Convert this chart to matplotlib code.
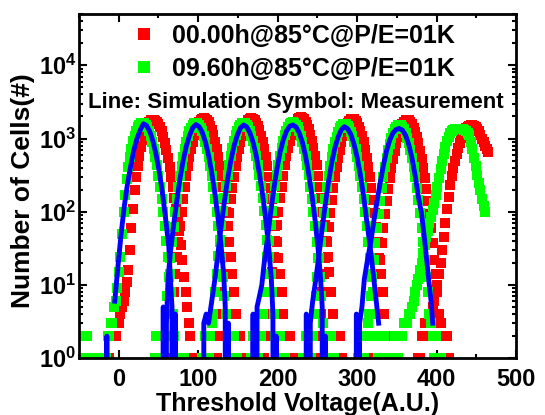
import matplotlib
matplotlib.use("Agg")
import matplotlib.pyplot as plt
from matplotlib.ticker import MultipleLocator, FixedLocator, FixedFormatter, LogLocator, NullFormatter
import numpy as np

nan = np.nan

# ---- chart text ----
legend_labels = ["00.00h@85\u00b0C@P/E=01K", "09.60h@85\u00b0C@P/E=01K"]
note_text = "Line: Simulation Symbol: Measurement"
x_label = "Threshold Voltage(A.U.)"
y_label = "Number of Cells(#)"
x_ticks = [0, 100, 200, 300, 400, 500]
y_ticks = [1, 10, 100, 1000, 10000]
y_tick_labels = [r"$\mathbf{10^{0}}$", r"$\mathbf{10^{1}}$", r"$\mathbf{10^{2}}$",
                 r"$\mathbf{10^{3}}$", r"$\mathbf{10^{4}}$"]

# ---- measurement: Vt histograms, bin width 2 A.U. ----
bin_w = 2

# 00.00h (red): first bin of each state, then counts per bin
red_start = [-28, 55, 115, 177, 242, 311, 377]
red_counts = [
    [1, 1, 1, 1, 1, 1, 1, 1, 1, 2, 2, 2, 2, 3, 3, 4, 5, 6, 8, 11, 16, 30, 60, 110, 200, 300,
     420, 580, 760, 950, 1150, 1340, 1520, 1670, 1780, 1810, 1800, 1760, 1680, 1560, 1420,
     1250, 1060, 880, 700, 540, 410, 300, 220, 155, 110, 78, 55, 35, 22, 13, 8, 5, 3, 2, 1,
     1, 1],
    [1, 2, 1, 1, 1, 2, 4, 8, 14, 24, 39, 64, 98, 148, 215, 304, 418, 559, 722, 906, 1102,
     1301, 1491, 1658, 1788, 1871, 1900, 1870, 1790, 1660, 1490, 1300, 1100, 905, 722, 560,
     420, 305, 215, 148, 98, 64, 39, 24, 14, 8, 4, 2, 1, 2, 1, 1, 1],
    [1, 1, 2, 1, 1, 2, 4, 8, 14, 24, 39, 63, 97, 147, 213, 302, 416, 556, 718, 901, 1096,
     1294, 1483, 1650, 1778, 1861, 1890, 1860, 1780, 1648, 1480, 1290, 1095, 900, 718, 555,
     415, 302, 213, 147, 97, 63, 39, 23, 14, 8, 4, 2, 1, 1, 2, 1, 1],
    [1, 2, 1, 1, 2, 2, 4, 8, 15, 24, 40, 65, 100, 152, 220, 312, 428, 574, 741, 930, 1131,
     1335, 1530, 1702, 1835, 1920, 1950, 1920, 1835, 1700, 1530, 1335, 1130, 930, 740, 573,
     428, 312, 220, 152, 100, 65, 40, 24, 15, 8, 4, 2, 1, 1, 1, 2, 1],
    [1, 1, 1, 2, 1, 2, 4, 8, 14, 23, 38, 62, 95, 144, 209, 296, 407, 544, 703, 882, 1073,
     1267, 1452, 1615, 1741, 1822, 1850, 1822, 1741, 1615, 1452, 1267, 1073, 882, 703, 544,
     407, 296, 209, 144, 95, 62, 38, 23, 14, 8, 4, 2, 1, 1, 2, 1, 1],
    [1, 2, 1, 1, 1, 2, 4, 8, 14, 22, 37, 60, 92, 140, 203, 288, 396, 529, 684, 858, 1044,
     1233, 1413, 1571, 1694, 1773, 1800, 1773, 1694, 1571, 1413, 1233, 1044, 858, 684, 529,
     396, 288, 203, 140, 92, 60, 37, 22, 14, 8, 4, 3, 2, 1, 1, 2, 1],
    [1, 1, 2, 2, 3, 3, 3, 4, 4, 5, 6, 8, 10, 14, 20, 30, 45, 70, 110, 160, 230, 310, 400,
     500, 620, 750, 880, 1010, 1150, 1270, 1380, 1450, 1500, 1520, 1520, 1490, 1450, 1360,
     1250, 1130, 1000, 890, 780, 710, 650],
]

# 09.60h (green)
green_start = [-50, 45, 105, 167, 232, 301, 341]
green_counts = [
    [1, 1, 2, 2, 2, 2, 1, 1, 1, 1, 1, 1, 1, 1,
     1, 1, 1, 1, 2, 2, 3, 3, 5, 6, 9, 15, 24, 50, 100, 170, 280, 410, 560, 730, 910, 1090,
     1270, 1420, 1540, 1620, 1650, 1620, 1540, 1420, 1260, 1090, 900, 730, 560, 430, 310,
     220, 150, 100, 64, 40, 24, 14, 8, 4, 2, 1, 1, 1, 1, 1, 1],
    [1, 2, 1, 1, 2, 1, 2, 4, 7, 13, 23, 38, 62, 98, 150, 220, 310, 425, 565, 725, 900, 1080,
     1255, 1410, 1530, 1615, 1650, 1610, 1530, 1410, 1250, 1075, 895, 720, 560, 425, 310,
     218, 150, 98, 63, 39, 23, 13, 7, 4, 2, 1, 1, 1, 2, 1, 1],
    [1, 1, 2, 1, 1, 2, 3, 4, 8, 14, 25, 41, 66, 103, 155, 226, 320, 438, 580, 742, 920, 1100,
     1275, 1425, 1540, 1620, 1640, 1620, 1545, 1425, 1270, 1095, 915, 738, 578, 436, 320,
     226, 155, 102, 66, 41, 24, 14, 8, 4, 2, 1, 1, 2, 1, 1, 1],
    [1, 2, 1, 1, 1, 2, 2, 4, 8, 14, 24, 40, 66, 102, 156, 228, 322, 440, 582, 745, 922, 1105,
     1282, 1435, 1555, 1635, 1660, 1630, 1550, 1425, 1265, 1085, 905, 728, 568, 430, 314,
     220, 150, 99, 63, 39, 23, 13, 7, 3, 2, 1, 1, 1, 2, 1, 1],
    [1, 1, 2, 2, 1, 1, 2, 4, 7, 13, 23, 38, 62, 97, 147, 215, 305, 418, 555, 712, 885, 1060,
     1230, 1380, 1500, 1575, 1600, 1575, 1500, 1385, 1235, 1065, 888, 715, 558, 420, 306,
     216, 148, 98, 63, 39, 23, 14, 8, 4, 2, 1, 1, 1, 1, 2, 1],
    [1, 2, 1, 2, 1, 2, 3, 4, 7, 13, 22, 37, 60, 94, 142, 208, 295, 405, 535, 688, 850, 1020,
     1185, 1330, 1445, 1525, 1550, 1525, 1450, 1335, 1190, 1025, 858, 690, 540, 408, 300,
     210, 145, 96, 60, 38, 22, 13, 8, 4, 3, 2, 1, 2, 1, 1, 1],
    [1, 1, 1, 2, 2, 1, 2, 2, 2, 3, 3, 3, 4, 4, 5, 6, 8, 10, 12, 16, 20, 27, 35, 45, 55, 70,
     85, 105, 130, 170, 220, 290, 380, 490, 620, 770, 920, 1060, 1180, 1250, 1300, 1330,
     1350, 1360, 1360, 1350, 1340, 1310, 1280, 1200, 1100, 900, 720, 550, 420, 320, 250,
     195, 150, 120, 100],
]

# ---- simulation (blue lines), 0 = below axis ----
sim_x = [
    [-18, -15, -12, -10, -5, -1, 3, 7, 11, 15, 19, 23, 27, 31, 35, 39, 43, 47, 51, 55, 59, 63,
     65, 67, 69, 71, 73],
    [54, 56, 58, 60, 62, 65, 69, 73, 77, 81, 85, 89, 93, 97, 101, 105, 109, 113, 117, 121, 125,
     129, 132, 134, 136, 138, 140],
    [104, 107, 110, 113, 117, 121, 125, 129, 133, 137, 141, 145, 149, 153, 157, 161, 165, 169,
     173, 177, 181, 185, 189, 192, 194, 196, 198, 200],
    [167, 169, 171, 174, 177, 180, 183, 187, 191, 195, 199, 203, 207, 211, 215, 219, 223, 227,
     231, 235, 239, 243, 247, 251, 254, 256, 258, 260, 262],
    [234, 236, 238, 241, 244, 248, 252, 256, 260, 264, 268, 272, 276, 280, 284, 288, 292, 296,
     300, 304, 308, 312, 316, 320, 324, 327],
    [297, 299, 301, 303, 306, 309, 313, 317, 321, 325, 329, 333, 337, 341, 345, 349, 353, 357,
     361, 365, 369, 373, 377, 381, 385, 389, 393, 395],
]
sim_y = [
    [0, 2, 0, nan, 6, 18, 50, 120, 240, 420, 700, 1000, 1300, 1590, 1500, 1250, 920, 600, 350,
     180, 80, 33, 12, 5, 0, 4, 0],
    [0, 5, 0, 3, 12, 28, 65, 140, 280, 500, 780, 1100, 1400, 1550, 1460, 1220, 900, 590, 340,
     175, 80, 32, 14, 5, 0, 3, 0],
    [0, 3, 4, 3, 6, 12, 28, 65, 140, 280, 500, 790, 1100, 1390, 1530, 1440, 1200, 890, 580,
     330, 170, 78, 30, 12, 4, 0, 2, 0],
    [0, 4, 0, 5, 7, 10, 20, 42, 95, 200, 380, 650, 960, 1260, 1470, 1530, 1440, 1200, 890, 580,
     330, 170, 78, 30, 12, 5, 0, 2, 0],
    [0, 4, 0, 3, 6, 12, 26, 60, 130, 260, 470, 750, 1050, 1320, 1450, 1360, 1140, 840, 550,
     320, 165, 75, 36, 15, 6, 3],
    [0, 4, 0, 3, 5, 12, 22, 38, 75, 140, 250, 430, 680, 950, 1190, 1330, 1370, 1300, 1100, 820,
     540, 310, 160, 95, 40, 15, 6, 3],
]

plt.rcParams['font.family'] = ['Liberation Sans', 'DejaVu Sans']
plt.rcParams['font.weight'] = 'bold'
plt.rcParams['axes.labelweight'] = 'bold'
plt.rcParams['mathtext.fontset'] = 'custom'
plt.rcParams['mathtext.bf'] = 'Liberation Sans:bold'
plt.rcParams['mathtext.rm'] = 'Liberation Sans:bold'

fig = plt.figure(figsize=(5.45, 4.15), dpi=100)
ax = fig.add_axes([0.145, 0.137, 0.802, 0.829])
ax.set_yscale('log')

handles = []
for start, counts in zip(red_start, red_counts):
    x = start + bin_w * np.arange(len(counts))
    h, = ax.plot(x, counts, ls='none', marker='s', ms=7.5, mew=0, color='#ff0000')
handles.append(h)
for start, counts in zip(green_start, green_counts):
    x = start + bin_w * np.arange(len(counts))
    h, = ax.plot(x, counts, ls='none', marker='s', ms=7.5, mew=0, color='#00ff00')
handles.append(h)
for x, y in zip(sim_x, sim_y):
    ax.plot(x, y, color='#0000ff', lw=3.5, solid_joinstyle='round')

ax.set_xlim(-50, 500)
ax.set_ylim(1, 5e4)
ax.xaxis.set_major_locator(FixedLocator(x_ticks))
ax.xaxis.set_minor_locator(MultipleLocator(50))
ax.yaxis.set_major_locator(FixedLocator(y_ticks))
ax.yaxis.set_major_formatter(FixedFormatter(y_tick_labels))
ax.yaxis.set_minor_locator(LogLocator(base=10, subs=np.arange(2, 10)))
ax.yaxis.set_minor_formatter(NullFormatter())

ax.tick_params(which='both', direction='in', top=True, right=True, width=1.5)
ax.tick_params(which='major', length=6, labelsize=17)
ax.tick_params(which='minor', length=3)
ax.tick_params(axis='x', pad=7)
ax.tick_params(axis='y', pad=2)
for s in ax.spines.values():
    s.set_linewidth(2)

ax.set_xlabel(x_label, fontsize=18, fontweight='bold', labelpad=1)
ax.set_ylabel(y_label, fontsize=19, fontweight='bold')
ax.yaxis.set_label_coords(-0.1, 0.487)

leg = ax.legend(handles, legend_labels, loc='upper center', bbox_to_anchor=(0.49, 1.0),
                borderaxespad=0, frameon=False, markerscale=1.2, handlelength=1.0,
                handletextpad=0.6, labelspacing=0.36, prop={'size': 18, 'weight': 'bold'})
ax.text(0.497, 0.744, note_text, transform=ax.transAxes, ha='center', va='center',
        fontsize=16, fontweight='bold')

fig.savefig('out.png', dpi=100)
